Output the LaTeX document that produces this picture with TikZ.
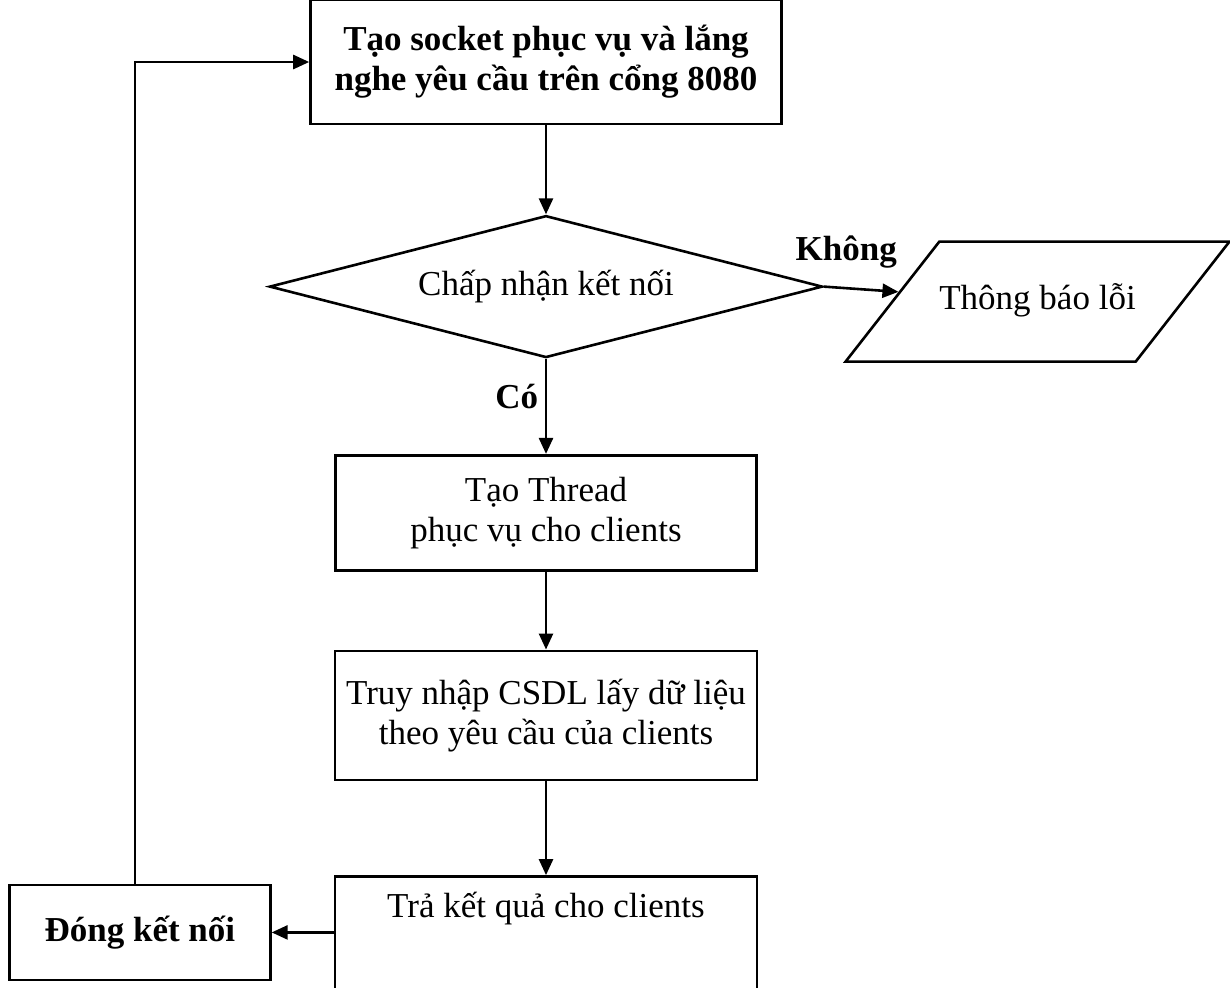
\documentclass[tikz,border=0pt]{standalone}
\usepackage{fontspec}
\setmainfont{Liberation Serif}
\usepackage{tikz}
\usetikzlibrary{positioning,arrows.meta,shapes.geometric}
\tikzset{
    flowbox/.style={draw, line width=1.3pt, rectangle, align=center, inner sep=2pt},
    flowboldbox/.style={flowbox, font=\fontsize{17.5}{20}\selectfont\bfseries},
    flowdecision/.style={draw, line width=1.3pt, diamond, aspect=3.9, inner sep=0pt, align=center, minimum width=276.5pt, minimum height=71pt},
    flowio/.style={draw, line width=1.3pt, trapezium, trapezium left angle=52, trapezium right angle=128, align=center, text height=12pt, text depth=4pt, inner ysep=22pt, inner xsep=0pt},
    flowarrow/.style={draw, line width=1.3pt, -{Triangle[length=8pt, width=7pt]}},
    flowlabel/.style={font=\fontsize{17.5}{20}\selectfont\bfseries}
}

\begin{document}
\begin{tikzpicture}[x=0.5pt, y=-0.5pt, font=\fontsize{17.5}{20}\selectfont]
    \clip (0,0) rectangle (1230,987);
    \node[flowboldbox, minimum width=235.5pt, minimum height=62pt] (taosocket) at (546,62) {Tạo socket phục vụ và lắng\\nghe yêu cầu trên cổng 8080};
    \node[flowdecision, below=44.5pt of taosocket] (chapnhan) {Chấp nhận kết nối};
    \node[flowio, right=33.5pt of chapnhan, yshift=-7.5pt] (thongbao) {Thông báo lỗi};
    \node[flowbox, below=47.5pt of chapnhan, minimum width=210.5pt, minimum height=57.5pt] (taothread) {Tạo Thread\\phục vụ cho clients};
    \node[flowbox, below=39pt of taothread, minimum width=211pt, minimum height=64.5pt] (truynhap) {Truy nhập CSDL lấy dữ liệu\\theo yêu cầu của clients};
    \node[flowbox, below=47pt of truynhap, minimum width=211pt, minimum height=62pt,
        label={[anchor=north, yshift=-5pt]north:Trả kết quả cho clients}] (traketqua) {};
    \node[flowboldbox, left=31pt of traketqua, yshift=3pt, minimum width=130.5pt, minimum height=47.5pt] (dongketnoi) {Đóng kết nối};

    \draw[flowarrow] (taosocket) -- (chapnhan);
    \draw[flowarrow] (chapnhan.east) -- node[flowlabel, above=6pt, pos=0.3] {Không} (thongbao);
    \draw[flowarrow] (chapnhan) -- node[flowlabel, left, pos=0.4] {Có} (taothread);
    \draw[flowarrow] (taothread) -- (truynhap);
    \draw[flowarrow] (truynhap) -- (traketqua);
    \draw[flowarrow] (traketqua.west |- dongketnoi) -- (dongketnoi);
    \draw[flowarrow] ([xshift=-2.5pt]dongketnoi.north) |- (taosocket.west);
\end{tikzpicture}
\end{document}
